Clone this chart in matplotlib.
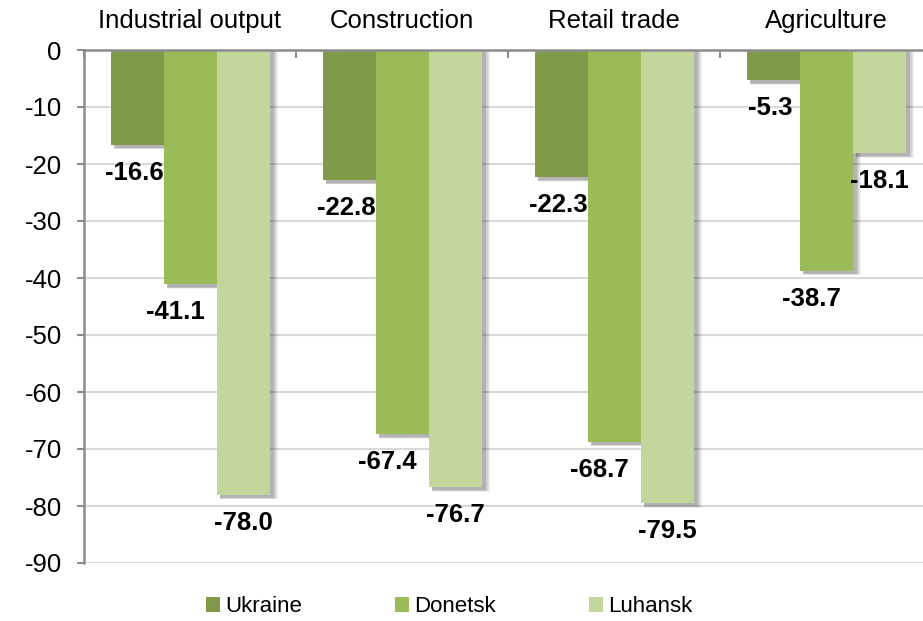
import numpy as np
import matplotlib
matplotlib.use('Agg')
import matplotlib.pyplot as plt
from matplotlib.patches import Patch

plt.rcParams['font.family'] = ['Liberation Sans', 'DejaVu Sans']

categories = ['Industrial output', 'Construction', 'Retail trade', 'Agriculture']
series_names = ['Ukraine', 'Donetsk', 'Luhansk']
ukraine = [-16.6, -22.8, -22.3, -5.3]
donetsk = [-41.1, -67.4, -68.7, -38.7]
luhansk = [-78.0, -76.7, -79.5, -18.1]
yticks = [0, -10, -20, -30, -40, -50, -60, -70, -80, -90]

colors = ['#7f9b4a', '#9bbb59', '#c3d69b']
label_dx = [-3, -15, 0]   # label shift in pixels, per series

fig = plt.figure(figsize=(9.23, 6.21), dpi=100)
ax = fig.add_axes([84/923, 1-563/621, 848/923, 513/621])

x = np.arange(len(categories))
w = 0.25
px_x = 1.0/212      # one pixel in category units
px_y = 1.0/5.7      # one pixel in value units

all_series = [ukraine, donetsk, luhansk]
for k, vals in enumerate(all_series):
    pos = x + (k-1)*w
    vals = np.array(vals)
    # soft shadow
    for s in range(6):
        grow = s*1.0
        ax.bar(pos + (4+grow*0.3)*px_x, vals - (3+grow*0.3)*px_y, width=w + grow*px_x,
               bottom=0, color='black', alpha=0.055, linewidth=0, zorder=2)
    ax.bar(pos, vals, width=w, color=colors[k], linewidth=0, zorder=3)
    for xi, v in zip(pos, vals):
        ax.annotate('%.1f' % v, (xi, v), xytext=(label_dx[k], -28),
                    textcoords='offset pixels', ha='center', va='center',
                    fontsize=18.5, fontweight='bold', color='black', zorder=5)

ax.set_xlim(-0.5, len(categories)-0.5)
ax.set_ylim(-90, 0)
ax.set_yticks(yticks)
ax.set_yticklabels([str(t) for t in yticks])
ax.yaxis.grid(True, color='#d9d9d9', linewidth=1.5, zorder=0)
ax.set_axisbelow(True)

ax.xaxis.tick_top()
ax.set_xticks(np.arange(len(categories)+1) - 0.5)
ax.set_xticklabels([])
ax.set_xticks(x, minor=True)
ax.set_xticklabels(categories, minor=True)
ax.tick_params(axis='x', which='major', direction='in', length=6, width=1.5, color='#8c8c8c')
ax.tick_params(axis='x', which='minor', length=0, pad=12, labelsize=18.5)
ax.tick_params(axis='y', direction='out', length=5, width=1.5, color='#8c8c8c', pad=11, labelsize=18.5)

for side in ['right', 'bottom']:
    ax.spines[side].set_visible(False)
for side in ['left', 'top']:
    ax.spines[side].set_color('#8c8c8c')
    ax.spines[side].set_linewidth(1.8)
    ax.spines[side].set_zorder(4)

handles = [Patch(facecolor=c, edgecolor='none') for c in colors]
fig.legend(handles, series_names, loc='center', bbox_to_anchor=(449/923, 1-607/621),
           ncol=3, frameon=False, fontsize=16, handlelength=0.65, handleheight=0.65,
           handletextpad=0.2, columnspacing=4.2)

fig.savefig('out.png', dpi=100)
